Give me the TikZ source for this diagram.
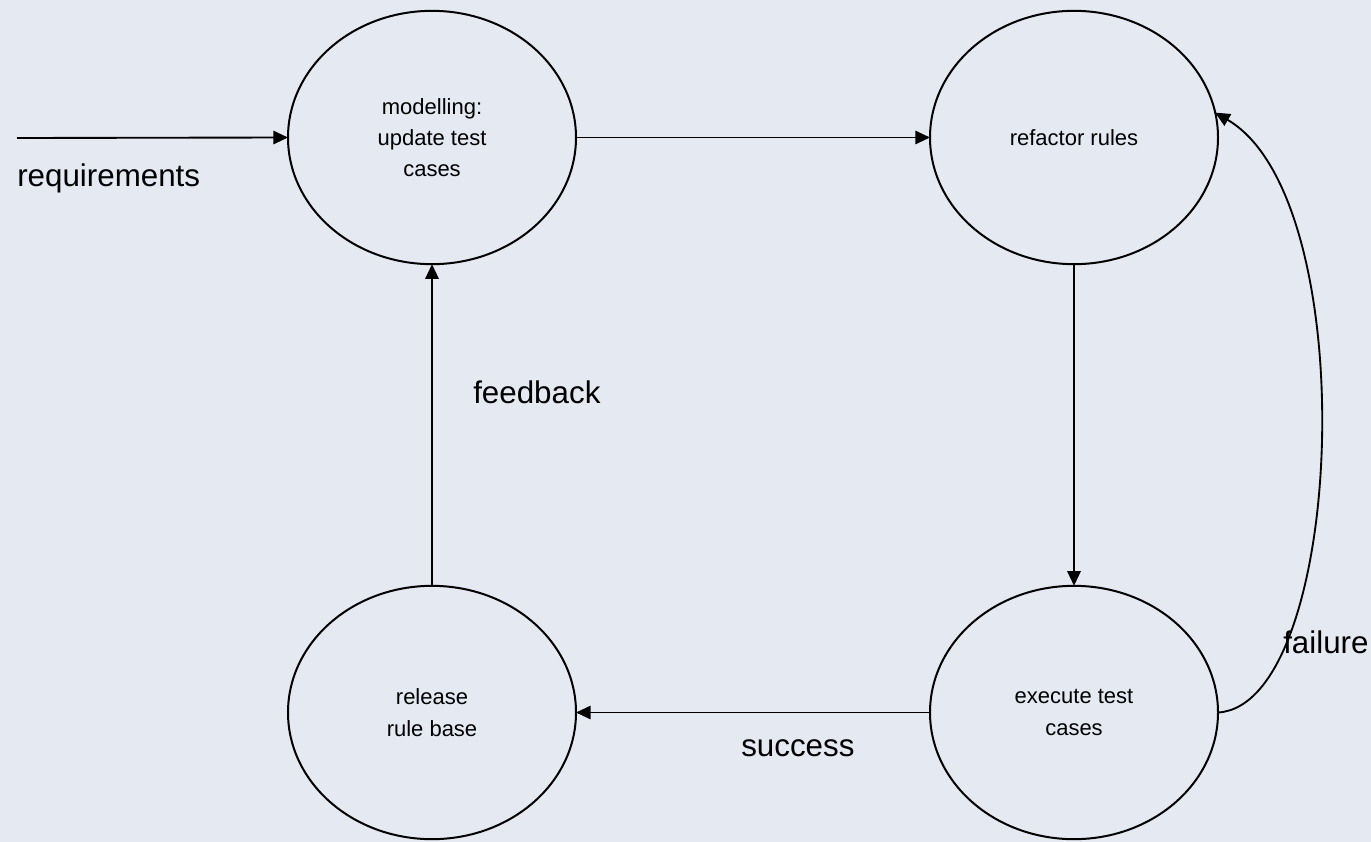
\documentclass[tikz,border=0pt]{standalone}
\usepackage{fontspec}
\setmainfont{Liberation Sans}
\usetikzlibrary{shapes.geometric,arrows.meta}
\definecolor{bgc}{HTML}{E4E9F2}
\begin{document}
\begin{tikzpicture}[x=0.75pt,y=-0.75pt,
  state/.style={draw=black,line width=1.5pt,ellipse,minimum width=216pt,minimum height=190pt,inner sep=0pt,outer sep=0pt,align=center,font=\fontsize{16.5}{23.5}\selectfont},
  conn/.style={line width=1.4pt,-{Triangle[length=11pt,width=10pt]}},
  lbl/.style={font=\fontsize{23.5}{28}\selectfont,inner sep=0pt}]
\fill[bgc] (0,0) rectangle (1371,842);
\useasboundingbox (0,0) rectangle (1371,842);
\node[state] (model) at (432,137.5) {modelling:\\update test\\cases};
\node[state] (refactor) at (1074,137.5) {refactor rules};
\node[state] (release) at (432,712.5) {release\\rule base};
\node[state] (exec) at (1074,712.5) {execute test\\cases};
\coordinate (req) at (17,138);
\draw[conn] (req) -- (model.west);
\draw[conn] (model.east) -- (refactor.west);
\draw[conn] (refactor.south) -- (exec.north);
\draw[conn] (exec.west) -- (release.east);
\draw[conn] (release.north) -- (model.south);
\draw[conn] (exec.east) .. controls (1345,705) and (1365,200) .. (refactor.10);
\node[lbl,anchor=base west] (lreq) at (17,186) {requirements};
\node[lbl,anchor=base west] (lfb) at (473,403) {feedback};
\node[lbl,anchor=base west] (lsucc) at (741,756) {success};
\node[lbl,anchor=base west] (lfail) at (1283,653) {failure};
\end{tikzpicture}
\end{document}
